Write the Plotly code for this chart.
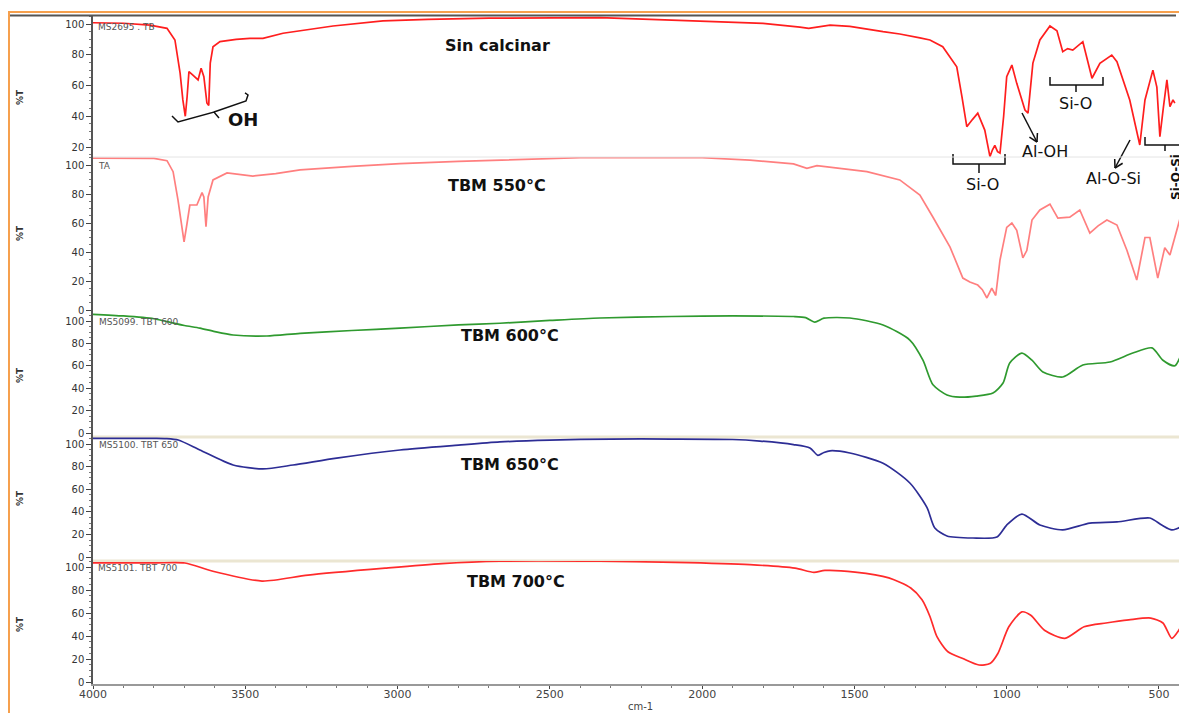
import math
import plotly.graph_objects as go

# ---------------- data (wavenumber cm-1, %T) ----------------
wn_raw = [4000, 3900, 3813, 3757, 3731, 3714, 3705, 3697, 3691, 3685, 3672, 3655, 3645, 3636, 3626,
          3620, 3615, 3606, 3583, 3530, 3485, 3442, 3376, 3300, 3212, 3048, 2900, 2700, 2336, 2100,
          1800, 1679, 1650, 1580, 1515, 1406, 1351, 1285, 1252, 1210, 1164, 1147, 1131, 1112, 1095,
          1072, 1055, 1047, 1039, 1030, 1022, 1010, 1000, 983, 967, 940, 930, 914, 891, 858, 835, 816,
          800, 783, 750, 720, 694, 655, 638, 596, 563, 546, 520, 507, 497, 486, 474, 464, 454, 448]
t_raw = [100.8, 100.5, 99.3, 97.2, 89.6, 68, 50.6, 40, 52.7, 69, 66.8, 63.6, 71.2, 65.7, 48.6,
         47, 74.6, 85.2, 88.5, 90, 90.7, 90.7, 94, 96, 98.7, 102, 103, 103.8, 104.1, 102.5,
         100.4, 98, 97.2, 99.3, 98.5, 95, 93.5, 91, 89.6, 85.2, 72.2, 52.7, 33.2, 38, 42,
         31, 13.7, 18, 21, 17, 16, 40, 65.7, 73.3, 61.4, 44, 42, 74.6, 89.6, 98.7, 95.6, 82,
         84, 83, 88.5, 64.7, 74.4, 79.8, 75.5, 50.6, 21.3, 50.6, 70, 59, 26.7, 45, 63.6, 46.2, 50.6, 48.5]

wn_550 = [4000, 3900, 3800, 3757, 3737, 3721, 3708, 3701, 3691, 3682, 3659, 3642, 3636, 3629, 3622,
          3606, 3560, 3475, 3400, 3320, 3150, 2992, 2800, 2664, 2400, 2000, 1843, 1700, 1656, 1623,
          1580, 1515, 1459, 1351, 1285, 1242, 1186, 1144, 1121, 1095, 1080, 1065, 1049, 1036, 1022,
          1000, 983, 967, 947, 934, 917, 891, 858, 832, 793, 760, 727, 700, 671, 638, 605, 573,
          546, 530, 504, 481, 464, 431, 420]
t_550 = [104.8, 104.8, 104.5, 103, 95.4, 75.9, 55, 47, 60, 72.4, 72.4, 81, 78, 57.5, 78,
         89.7, 94.5, 92.4, 94, 96.6, 99, 101, 102.5, 103.4, 105, 105, 103.4, 100.8, 97.7, 99.5,
         98.5, 96.5, 95.4, 89.7, 79.3, 64, 43.4, 22, 19.3, 17.2, 14, 8.3, 15, 10, 34.5,
         57, 60, 55, 36, 41, 62, 69, 73, 63.4, 64, 69, 53, 58, 62, 58.6, 41, 20.7,
         50, 50, 22, 43, 38, 63, 68]

wn_600 = [4000, 3900, 3800, 3757, 3700, 3649, 3600, 3540, 3429, 3320, 3150, 2992, 2800, 2664, 2500,
          2336, 2100, 1900, 1700, 1660, 1630, 1600, 1515, 1406, 1318, 1275, 1242, 1196, 1154, 1100,
          1045, 1012, 990, 950, 917, 881, 816, 750, 661, 586, 523, 487, 448, 421, 408]
t_600 = [106, 104.5, 102, 99.4, 96, 93.6, 90.5, 87.5, 86.6, 89, 91.5, 93.7, 96.5, 98, 100.5,
         102.7, 104, 104.5, 104, 103, 99, 102.5, 102.7, 96.4, 83, 65, 43, 34, 32, 33,
         35.7, 44.6, 62.5, 71.4, 65, 54.5, 50, 60.7, 63.4, 71.4, 76, 65, 60, 74, 83]

wn_650 = [4000, 3800, 3760, 3720, 3649, 3540, 3442, 3343, 3200, 2992, 2800, 2664, 2500, 2300, 2100,
          1900, 1810, 1700, 1646, 1620, 1600, 1580, 1515, 1406, 1318, 1262, 1236, 1196, 1111, 1032,
          1000, 950, 891, 816, 727, 638, 530, 491, 458, 431, 408]
t_650 = [105, 105, 104.8, 103.5, 94.7, 81.4, 78, 81.4, 87.5, 94.7, 99, 101.8, 103.5, 104.4, 104.4,
         104, 102.6, 99.5, 96.5, 90, 92.5, 94, 92, 83, 65.5, 44, 25.7, 18.6, 16.8, 17.7,
         28.3, 38, 28.3, 24, 30, 31, 34.5, 28.3, 24, 26.5, 35.4]

wn_700 = [4000, 3800, 3698, 3609, 3445, 3294, 3041, 2854, 2664, 2336, 2089, 1843, 1695, 1633, 1597,
          1498, 1387, 1315, 1278, 1252, 1229, 1193, 1144, 1091, 1055, 1029, 993, 950, 921, 876,
          809, 746, 674, 599, 527, 487, 458, 435, 408]
t_700 = [103.5, 103.5, 103.5, 96.5, 87.8, 93, 99, 102.9, 105, 105, 104, 102, 99, 95.3, 97,
         95.6, 90.5, 81.7, 71.5, 57, 39.4, 26.3, 20.4, 14.8, 16, 24.8, 48, 61, 58, 45,
         38, 48, 51.3, 54, 55.6, 51.3, 38, 45, 58]

titles = ["Sin calcinar", "TBM 550°C", "TBM 600°C", "TBM 650°C", "TBM 700°C"]
sample_ids = ["MS2695 . TB", "TA", "MS5099. TBT 600", "MS5100. TBT 650", "MS5101. TBT 700"]
x_ticks = [4000, 3500, 3000, 2500, 2000, 1500, 1000, 500]
y_ticks = [0, 20, 40, 60, 80, 100]

# ---------------- layout geometry (window pixel coordinates) ----------------
OFF = 8                      # page body margin
W, H = 1187 - OFF, 713 - OFF
PL, PR, PT, PB = 93, 1187, 15, 684   # plot area in window pixels
L, T = PL - OFF, PT - OFF
R, B = (1187 - OFF) - (PR - OFF), H - (PB - OFF)
PW, PH = PR - PL, PB - PT


def px(x):
    return (x - PL) / PW


def py(y):
    return (PB - y) / PH


# (top px, bottom px, px of 100 tick, px per unit)
geo = [(15, 157, 24, 1.5375), (157, 313, 165, 1.45), (313, 437, 321, 1.12),
       (437, 561, 444, 1.13), (561, 684, 567, 1.15)]
series = [(wn_raw, t_raw, "#ff1e1e", "linear"), (wn_550, t_550, "#ff7f7f", "linear"),
          (wn_600, t_600, "#2f9a2f", "spline"), (wn_650, t_650, "#2d2d95", "spline"),
          (wn_700, t_700, "#ff2b2b", "spline")]
title_pos = [(497, 46), (497, 186), (510, 335), (510, 465), (516, 581)]
id_pos = [(96, 27), (96, 166), (97, 322), (97, 445), (96, 568)]
pct_pos = [97, 233, 375, 498, 624]

FONT = "DejaVu Sans, Arial, sans-serif"
fig = go.Figure()
layout = dict(width=W, height=H, margin=dict(l=L, r=R, t=T, b=B, pad=0), paper_bgcolor="white",
              plot_bgcolor="white", showlegend=False)
annotations = []
shapes = []


def note(text, x, y, size, color="#111", angle=0, xanchor="center"):
    annotations.append(dict(text=text, x=px(x), y=py(y), xref="paper", yref="paper",
                            showarrow=False, textangle=angle, xanchor=xanchor,
                            yanchor="middle", font=dict(family=FONT, size=size, color=color)))


for i, ((top, bot, y100, sc), (wn, tv, col, shp)) in enumerate(zip(geo, series)):
    yname = "y" if i == 0 else f"y{i + 1}"
    lname = "yaxis" if i == 0 else f"yaxis{i + 1}"
    tr = dict(x=wn, y=tv, xaxis="x", yaxis=yname, mode="lines",
              line=dict(color=col, width=1.7, shape=shp), hoverinfo="skip")
    if shp == "spline":
        tr["line"]["smoothing"] = 0.7
    fig.add_trace(go.Scatter(**tr))
    vmin = 100 - (bot - y100) / sc
    vmax = 100 + (y100 - top) / sc
    layout[lname] = dict(domain=[py(bot), py(top)], range=[vmin, vmax], anchor="x",
                         tickmode="array", tickvals=y_ticks, ticks="outside", ticklen=5,
                         tickcolor="#444", tickwidth=1.2, showline=True, linecolor="#555",
                         linewidth=1.5, showgrid=False, zeroline=False,
                         tickfont=dict(family=FONT, size=10, color="#333"),
                         minor=dict(ticks="outside", ticklen=2, dtick=5, tick0=0,
                                    tickcolor="#777", showgrid=False),
                         fixedrange=True)
    note(f"<b>{titles[i]}</b>", title_pos[i][0], title_pos[i][1], 16)
    note(sample_ids[i], id_pos[i][0], id_pos[i][1], 9, color="#555", xanchor="left")
    note("<b>%T</b>", 20, pct_pos[i], 9, color="#333", angle=-90)

layout["xaxis"] = dict(domain=[0, 1], range=[4000, 408], anchor="y5", tickmode="array",
                       tickvals=x_ticks, ticks="outside", ticklen=3, tickcolor="#444",
                       showline=True, linecolor="#999", linewidth=1.5, showgrid=False,
                       zeroline=False, tickfont=dict(family=FONT, size=11, color="#444"),
                       ticklabelstandoff=-4,
                       minor=dict(ticks="outside", ticklen=2, dtick=100, tickcolor="#777",
                                  showgrid=False),
                       fixedrange=True)

note("cm-1", 640, 706, 10, color="#444")

# ---- band annotations ----
note("<b>OH</b>", 243, 119, 18)
note("Si-O", 982, 184, 16)
note("Al-OH", 1045, 152, 16)
note("Si-O", 1075, 104, 16)
note("Al-O-Si", 1113, 178, 16)
note("<b>Si-O-Si</b>", 1176, 177, 12, angle=-90)


def path(points):
    return "M " + " L ".join(f"{px(a):.5f},{py(b):.5f}" for a, b in points)


def seg(points, color="#111", width=1.5):
    shapes.append(dict(type="path", path=path(points), xref="paper", yref="paper",
                       line=dict(color=color, width=width)))


# brackets
seg([(172, 116), (178, 122), (214, 112), (219, 118)])
seg([(214, 112), (246, 101), (248, 95), (245, 93)])
seg([(953, 154), (953, 164), (1005, 164), (1005, 154)])
seg([(979, 164), (979, 173)])
seg([(1050, 77), (1050, 85), (1103, 85), (1103, 77)])
seg([(1076, 85), (1076, 92)])
seg([(1145, 137), (1145, 145), (1183, 145), (1183, 137)])
seg([(1165, 145), (1165, 151)])


def arrow(x0, y0, x1, y1, head=9):
    seg([(x0, y0), (x1, y1)])
    ang = math.atan2(y1 - y0, x1 - x0)
    for d in (math.radians(150), math.radians(-150)):
        seg([(x1, y1), (x1 + head * math.cos(ang + d), y1 + head * math.sin(ang + d))])


arrow(1022, 113, 1037, 142)
arrow(1130, 140, 1115, 168)

# frame / separators
shapes.append(dict(type="line", xref="paper", yref="paper", x0=px(9), x1=px(9), y0=py(713), y1=py(12),
                   line=dict(color="#f6a04d", width=2)))
shapes.append(dict(type="line", xref="paper", yref="paper", x0=px(8), x1=px(1187), y0=py(12), y1=py(12),
                   line=dict(color="#f6a04d", width=2)))
shapes.append(dict(type="line", xref="paper", yref="paper", x0=px(10), x1=px(1176), y0=py(15.5), y1=py(15.5),
                   line=dict(color="#555", width=2)))
shapes.append(dict(type="line", xref="paper", yref="paper", x0=px(93), x1=px(1187), y0=py(157), y1=py(157),
                   line=dict(color="#e4e4e4", width=1)))
for yy in (437, 561):
    shapes.append(dict(type="line", xref="paper", yref="paper", x0=px(93), x1=px(1187), y0=py(yy), y1=py(yy),
                       line=dict(color="#ebe6d2", width=3), layer="below"))

layout["annotations"] = annotations
layout["shapes"] = shapes
fig.update_layout(**layout)
fig.write_html("out.html")
